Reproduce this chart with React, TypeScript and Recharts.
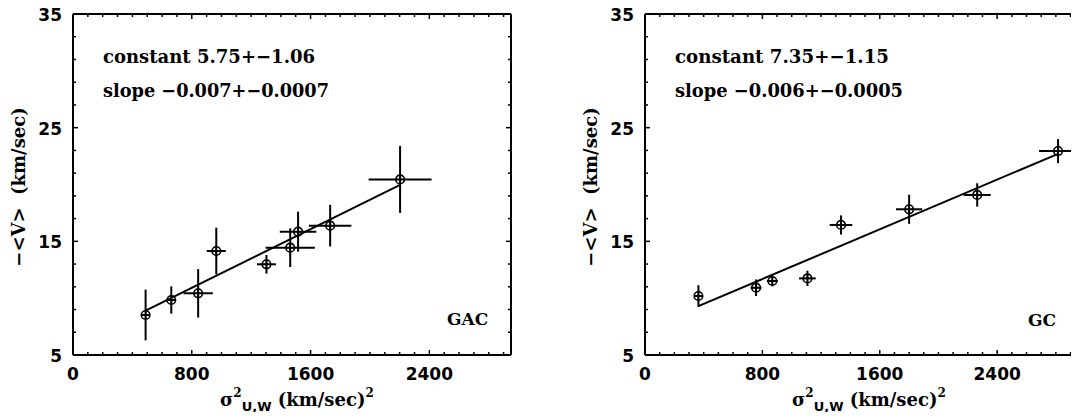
import React from 'react';
import { ComposedChart, Scatter, XAxis, YAxis, ErrorBar } from 'recharts';

// ---- GAC panel data ----
const gacX = [489, 662, 843, 965, 1303, 1463, 1516, 1732, 2203];
const gacV = [8.52, 9.84, 10.43, 14.15, 12.98, 14.44, 15.85, 16.38, 20.45];
const gacXErr = [30, 25, 99, 64, 64, 166, 123, 143, 212];
const gacVErr = [2.23, 1.2, 2.13, 2.05, 0.82, 1.7, 1.76, 1.83, 2.95];
const gacFitX = [489, 2203];
const gacFitV = [8.9, 19.96];

// ---- GC panel data ----
const gcX = [364, 757, 868, 1107, 1336, 1800, 2264, 2815];
const gcV = [10.19, 10.92, 11.51, 11.74, 16.44, 17.82, 19.08, 22.94];
const gcXErr = [30, 37, 37, 57, 77, 89, 92, 130];
const gcVErr = [0.95, 0.73, 0.47, 0.67, 0.84, 1.28, 1.03, 1.06];
const gcFitX = [364, 2815];
const gcFitV = [9.3, 22.7];

// ---- axes ----
const xLabelTicks = [0, 800, 1600, 2400];
const xAllTicks = [0, 100, 200, 300, 400, 500, 600, 700, 800, 900, 1000, 1100, 1200, 1300, 1400, 1500, 1600, 1700, 1800, 1900, 2000, 2100, 2200, 2300, 2400, 2500, 2600, 2700, 2800, 2900];
const yLabelTicks = [5, 15, 25, 35];
const yAllTicks = [5, 7, 9, 11, 13, 15, 17, 19, 21, 23, 25, 27, 29, 31, 33, 35];

const TICK_FONT = 'DejaVu Sans';
const SERIF = 'DejaVu Serif';

const BottomTick = (p: any) => {
  const { x, y, payload } = p;
  const v = payload.value;
  const major = xLabelTicks.includes(v);
  return (
    <g>
      <line x1={x} x2={x} y1={y} y2={y - (major ? 5 : 3)} stroke="#000" strokeWidth={1.5} />
      {major && (
        <text x={x} y={y + 25} textAnchor="middle" fontFamily={TICK_FONT} fontWeight="bold" fontSize={17} fill="#000">
          {v}
        </text>
      )}
    </g>
  );
};
const TopTick = (p: any) => {
  const { x, y, payload } = p;
  const major = xLabelTicks.includes(payload.value);
  return <line x1={x} x2={x} y1={y} y2={y + (major ? 5 : 3)} stroke="#000" strokeWidth={1.5} />;
};
const LeftTick = (p: any) => {
  const { x, y, payload } = p;
  const v = payload.value;
  const major = yLabelTicks.includes(v);
  return (
    <g>
      <line x1={x} x2={x + (major ? 5 : 3)} y1={y} y2={y} stroke="#000" strokeWidth={1.5} />
      {major && (
        <text x={x - 11} y={y + 7} textAnchor="end" fontFamily={TICK_FONT} fontWeight="bold" fontSize={17} fill="#000">
          {v}
        </text>
      )}
    </g>
  );
};
const RightTick = (p: any) => {
  const { x, y, payload } = p;
  const major = yLabelTicks.includes(payload.value);
  return <line x1={x} x2={x - (major ? 5 : 3)} y1={y} y2={y} stroke="#000" strokeWidth={1.5} />;
};

const Marker = (p: any) => {
  const { cx, cy } = p;
  if (cx == null || cy == null) return <g />;
  return (
    <g>
      <circle cx={cx} cy={cy} r={4.3} fill="none" stroke="#000" strokeWidth={1.6} />
      <line x1={cx - 4} x2={cx + 4} y1={cy} y2={cy} stroke="#000" strokeWidth={1.3} />
      <line x1={cx} x2={cx} y1={cy - 4} y2={cy + 4} stroke="#000" strokeWidth={1.3} />
    </g>
  );
};
const Empty = () => <g />;

const axisLine = { stroke: '#000', strokeWidth: 2 };

function Panel(props: {
  xs: number[]; vs: number[]; xe: number[]; ve: number[]; fx: number[]; fv: number[];
  xMax: number; width: number; margin: any;
}) {
  const { xs, vs, xe, ve, fx, fv, xMax, width, margin } = props;
  const pts = xs.map((x, i) => ({ x, v: vs[i], ex: xe[i], ev: ve[i] }));
  const fit = fx.map((x, i) => ({ x, v: fv[i] }));
  return (
    <ComposedChart width={width} height={420} margin={margin}>
      <XAxis xAxisId="b" type="number" dataKey="x" domain={[0, xMax]} allowDataOverflow ticks={xAllTicks} interval={0}
        tick={BottomTick} tickLine={false} tickSize={0} tickMargin={0} height={60} axisLine={axisLine} orientation="bottom" />
      <XAxis xAxisId="t" type="number" dataKey="x" domain={[0, xMax]} allowDataOverflow ticks={xAllTicks} interval={0}
        tick={TopTick} tickLine={false} tickSize={0} tickMargin={0} height={1} axisLine={axisLine} orientation="top" />
      <YAxis yAxisId="l" type="number" dataKey="v" domain={[5, 35]} allowDataOverflow ticks={yAllTicks} interval={0}
        tick={LeftTick} tickLine={false} tickSize={0} tickMargin={0} width={60} axisLine={axisLine} orientation="left" />
      <YAxis yAxisId="r" type="number" dataKey="v" domain={[5, 35]} allowDataOverflow ticks={yAllTicks} interval={0}
        tick={RightTick} tickLine={false} tickSize={0} tickMargin={0} width={1} axisLine={axisLine} orientation="right" />
      <Scatter xAxisId="t" yAxisId="r" data={pts} shape={Empty} isAnimationActive={false} />
      <Scatter xAxisId="b" yAxisId="l" data={fit} shape={Empty} line={{ stroke: '#000', strokeWidth: 2 }} isAnimationActive={false} />
      <Scatter xAxisId="b" yAxisId="l" data={pts} shape={Marker} isAnimationActive={false}>
        <ErrorBar dataKey="ex" direction="x" width={0} stroke="#000" strokeWidth={2} isAnimationActive={false} />
        <ErrorBar dataKey="ev" direction="y" width={0} stroke="#000" strokeWidth={2} isAnimationActive={false} />
      </Scatter>
    </ComposedChart>
  );
}

const txt = { fontFamily: SERIF, fontWeight: 'bold' as const, fill: '#000' };

function Titles({ left, tag, c1, c2, tagX, tagY, w1, w2 }: any) {
  return (
    <g>
      <text x={left + 30} y={63} fontSize={19} textLength={w1} lengthAdjust="spacingAndGlyphs" {...txt}>{c1}</text>
      <text x={left + 30} y={97} fontSize={19} textLength={w2} lengthAdjust="spacingAndGlyphs" {...txt}>{c2}</text>
      <text x={tagX} y={tagY} fontSize={17} {...txt}>{tag}</text>
      <text x={left - 48} y={187} fontSize={18} textAnchor="middle" transform={`rotate(-90 ${left - 48} 187)`} {...txt}>
        {'\u2212<V>\u00a0\u00a0(km/sec)'}
      </text>
      <text x={left + 147} y={406} fontSize={18} {...txt}>
        <tspan>σ</tspan>
        <tspan fontSize={12} dy={-9}>2</tspan>
        <tspan fontSize={13} dy={14} fontFamily="DejaVu Sans">U,W</tspan>
        <tspan fontSize={18} dy={-5}>{'\u00a0(km/sec)'}</tspan>
        <tspan fontSize={12} dy={-9}>2</tspan>
      </text>
    </g>
  );
}

export default function App() {
  return (
    <div style={{ position: 'relative', width: 1079, height: 420, overflow: 'hidden', margin: -8, background: '#fff' }}>
      <div style={{ position: 'absolute', left: 0, top: 0 }}>
        <Panel xs={gacX} vs={gacV} xe={gacXErr} ve={gacVErr} fx={gacFitX} fv={gacFitV} xMax={2950} width={540}
          margin={{ top: 13, right: 28, bottom: 5, left: 13 }} />
      </div>
      <div style={{ position: 'absolute', left: 540, top: 0 }}>
        <Panel xs={gcX} vs={gcV} xe={gcXErr} ve={gcVErr} fx={gcFitX} fv={gcFitV} xMax={2985} width={560}
          margin={{ top: 13, right: 16, bottom: 5, left: 45 }} />
      </div>
      <svg width={1079} height={420} style={{ position: 'absolute', left: 0, top: 0, pointerEvents: 'none' }}>
        <Titles left={73} tag="GAC" tagX={447} tagY={325} w1={212} w2={226}
          c1={'constant 5.75+\u22121.06'} c2={'slope \u22120.007+\u22120.0007'} />
        <Titles left={645} tag="GC" tagX={1028} tagY={326} w1={214} w2={228}
          c1={'constant 7.35+\u22121.15'} c2={'slope \u22120.006+\u22120.0005'} />
      </svg>
    </div>
  );
}
